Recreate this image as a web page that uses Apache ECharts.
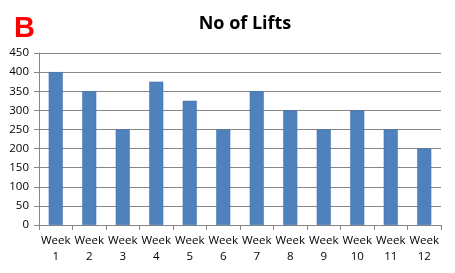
<!DOCTYPE html>
<html><head><meta charset="utf-8">
<script src="https://cdn.jsdelivr.net/npm/echarts@6/dist/echarts.min.js"></script>
<style>html,body{margin:0;padding:0;background:#fff}#c{width:455px;height:273px}</style>
</head><body><div id="c"></div>
<script>
const categories = ['Week\n1','Week\n2','Week\n3','Week\n4','Week\n5','Week\n6','Week\n7','Week\n8','Week\n9','Week\n10','Week\n11','Week\n12'];
const yTicks = [0,50,100,150,200,250,300,350,400,450];
const lifts = [400,350,250,375,325,250,350,300,250,300,250,200];
const chart = echarts.init(document.getElementById('c'));
chart.setOption({
  animation:false,
  title:[
    {text:'No of Lifts',left:240,textAlign:'center',top:10,textStyle:{fontFamily:'Open Sans',fontWeight:'bold',fontSize:18,color:'#000'}},
    {text:'B',left:9,top:9,textStyle:{fontFamily:'Liberation Sans',fontWeight:'bold',fontSize:29,color:'#ff0000'}}
  ],
  grid:{left:39,right:14,top:53,bottom:48},
  xAxis:{type:'category',data:categories,
    axisLine:{lineStyle:{color:'#868686'}},
    axisTick:{show:true,length:5,lineStyle:{color:'#868686'}},
    axisLabel:{interval:0,color:'#000',fontFamily:'Open Sans',fontSize:11.5,lineHeight:16,margin:8}},
  yAxis:{type:'value',min:yTicks[0],max:yTicks[yTicks.length-1],interval:50,
    axisLine:{show:true,lineStyle:{color:'#868686'}},
    axisTick:{show:true,length:5,lineStyle:{color:'#868686'}},
    splitLine:{lineStyle:{color:'#868686'}},
    axisLabel:{color:'#000',fontFamily:'Open Sans',fontSize:11.5,margin:10}},
  series:[{type:'bar',data:lifts,barWidth:'42%',itemStyle:{color:'#4F81BD',borderColor:'#3f6fa8',borderWidth:0.5}}]
});
</script></body></html>
